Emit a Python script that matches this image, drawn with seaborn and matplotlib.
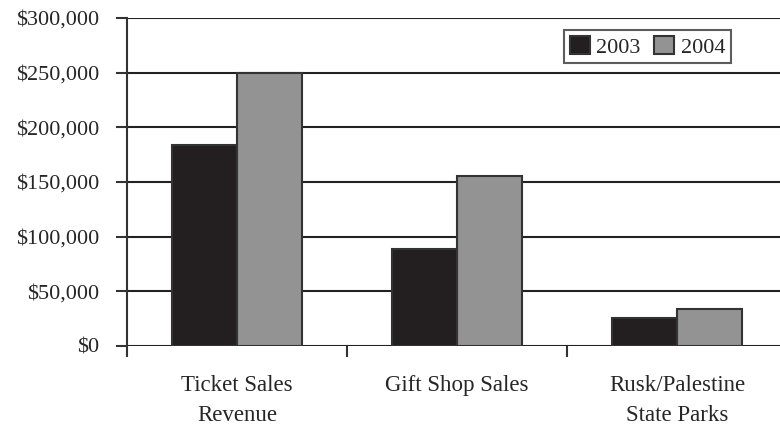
import numpy as np
import pandas as pd
import seaborn as sns
import matplotlib.pyplot as plt
from matplotlib.ticker import FuncFormatter, FixedLocator

# Datos
categorias = ["Ticket Sales\nRevenue", "Gift Shop Sales", "Rusk/Palestine\nState Parks"]
ventas_2003 = [184000, 88500, 26000]
ventas_2004 = [250000, 155500, 34000]
anios = ["2003", "2004"]
colores = ["#231f20", "#939393"]

df = pd.DataFrame({
    "categoria": categorias * 2,
    "valor": ventas_2003 + ventas_2004,
    "anio": [anios[0]] * 3 + [anios[1]] * 3,
})

sns.set_style("white")
plt.rcParams['font.family'] = ['Liberation Serif', 'DejaVu Serif']

fig = plt.figure(figsize=(7.8, 4.3), dpi=100)
ax = fig.add_axes([127 / 780, 84 / 430, 660 / 780, 328 / 430])

sns.barplot(data=df, x="categoria", y="valor", hue="anio", palette=colores,
            width=0.59, gap=0, edgecolor="#333333", linewidth=1.5,
            saturation=1, ax=ax)

ax.set_xlim(-0.5, 2.5)
ax.set_ylim(0, 300000)
ax.set_yticks(np.arange(0, 300001, 50000))
ax.yaxis.set_major_formatter(FuncFormatter(lambda v, p: f"${v:,.0f}"))
ax.grid(axis="y", color="#222222", linewidth=1.5)
ax.set_axisbelow(True)

ax.set_xlabel("")
ax.set_ylabel("")
ax.tick_params(axis="x", which="major", length=0, pad=21, labelsize=16.5)
ax.xaxis.set_minor_locator(FixedLocator([-0.5, 0.5, 1.5, 2.5]))
ax.tick_params(axis="x", which="minor", length=8, width=1.5, color="#333333", direction="out", bottom=True)
ax.tick_params(axis="y", length=8, width=1.5, color="#333333", direction="out", left=True, pad=12, labelsize=16)
for t in ax.get_xticklabels():
    t.set_linespacing(1.55)

for s in ["top", "right", "bottom"]:
    ax.spines[s].set_visible(False)
ax.spines["left"].set_color("#333333")
ax.spines["left"].set_linewidth(1.5)

ax.legend(title=None, ncol=2, loc="upper left", bbox_to_anchor=(553 / 780, 1 - 19 / 430),
          bbox_transform=fig.transFigure, frameon=True, fancybox=False,
          edgecolor="#333333", fontsize=16, handlelength=0.9, handleheight=0.9,
          handletextpad=0.3, columnspacing=0.6, borderpad=0.25)
ax.get_legend().get_frame().set_linewidth(1.5)

plt.savefig("out.png", dpi=100)
